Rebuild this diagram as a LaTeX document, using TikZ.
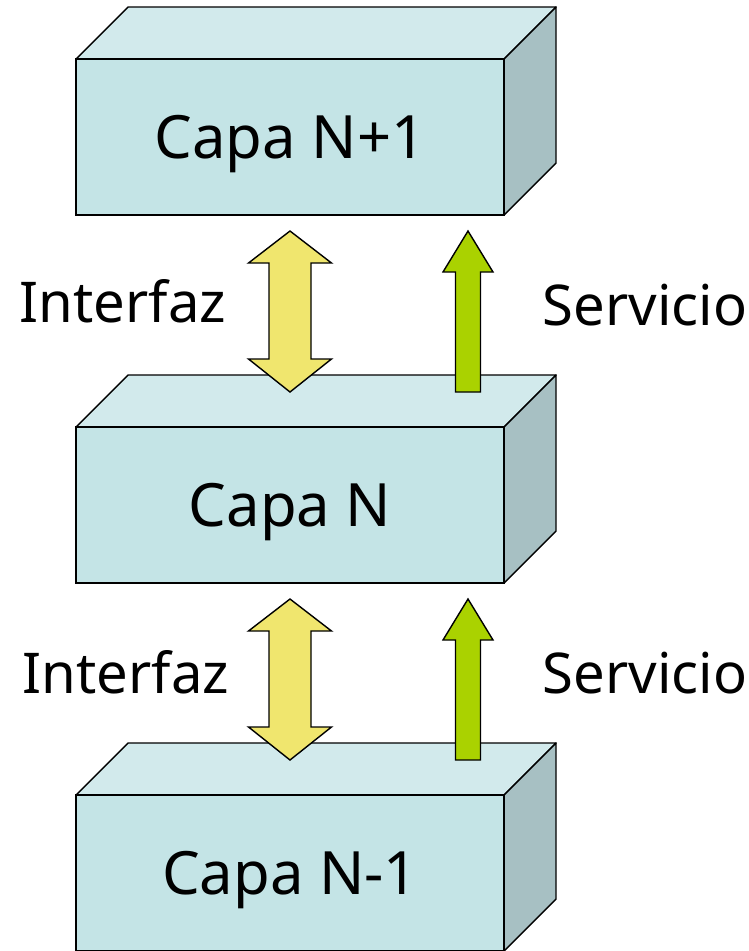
\documentclass[tikz,border=0pt]{standalone}
\usepackage{fontspec}
\setmainfont{Noto Sans}
\usetikzlibrary{calc}
\definecolor{capafront}{RGB}{196,228,230}
\definecolor{capatop}{RGB}{210,234,236}
\definecolor{capaside}{RGB}{167,192,195}
\definecolor{interfazfill}{RGB}{240,230,110}
\definecolor{serviciofill}{RGB}{170,210,0}
\newcommand{\capa}[3]{\filldraw[fill=capatop, thick, line join=round] ( 76 , #1 ) -- ( 128 , #1 - 52 ) -- ( 556 , #1 - 52 ) -- ( 504 , #1 ) -- cycle; \filldraw[fill=capaside, thick, line join=round] ( 504 , #1 ) -- ( 556 , #1 - 52 ) -- ( 556 , #1 + 104 ) -- ( 504 , #1 + 156 ) -- cycle; \filldraw[fill=capafront, thick] ( 76 , #1 ) rectangle ( 504 , #1 + 156 ); \node[anchor=base, inner sep=0pt, font=\fontsize{34}{40}\selectfont] (#2) at ( 290 , #1 + 99 ) {#3};}
\newcommand{\interfaz}[2]{\filldraw[fill=interfazfill, thick] ( #1 , #2 ) -- ( #1 + 41.5 , #2 + 32 ) -- ( #1 + 21 , #2 + 32 ) -- ( #1 + 21 , #2 + 128 ) -- ( #1 + 41.5 , #2 + 128 ) -- ( #1 , #2 + 161 ) -- ( #1 - 41.5 , #2 + 128 ) -- ( #1 - 21 , #2 + 128 ) -- ( #1 - 21 , #2 + 32 ) -- ( #1 - 41.5 , #2 + 32 ) -- cycle;}
\newcommand{\servicio}[2]{\filldraw[fill=serviciofill, thick] ( #1 , #2 ) -- ( #1 + 25 , #2 + 41 ) -- ( #1 + 12.5 , #2 + 41 ) -- ( #1 + 12.5 , #2 + 161 ) -- ( #1 - 12.5 , #2 + 161 ) -- ( #1 - 12.5 , #2 + 41 ) -- ( #1 - 25 , #2 + 41 ) -- cycle;}
\newcommand{\lablnode}[4]{\node[anchor=base, inner sep=0pt, font=\fontsize{32}{38}\selectfont] (#3) at ( #1 , #2 ) {#4};}

\begin{document}
\begin{tikzpicture}[x=0.02cm, y=-0.02cm]

        \useasboundingbox (0,0) rectangle (749,951);

        % capas
        \capa{59}{capaA}{Capa N+1}
        \capa{427}{capaB}{Capa N}
        \capa{795}{capaC}{Capa N-1}

        % flechas
        \interfaz{290}{231}
        \servicio{468}{231}

        \interfaz{290}{599}
        \servicio{468}{599}

        % etiquetas
        \lablnode{123}{322}{intA}{Interfaz}
        \lablnode{645}{325}{servA}{Servicio}

        \lablnode{126}{693}{intB}{Interfaz}
        \lablnode{645}{693}{servB}{Servicio}

    \end{tikzpicture}
\end{document}
